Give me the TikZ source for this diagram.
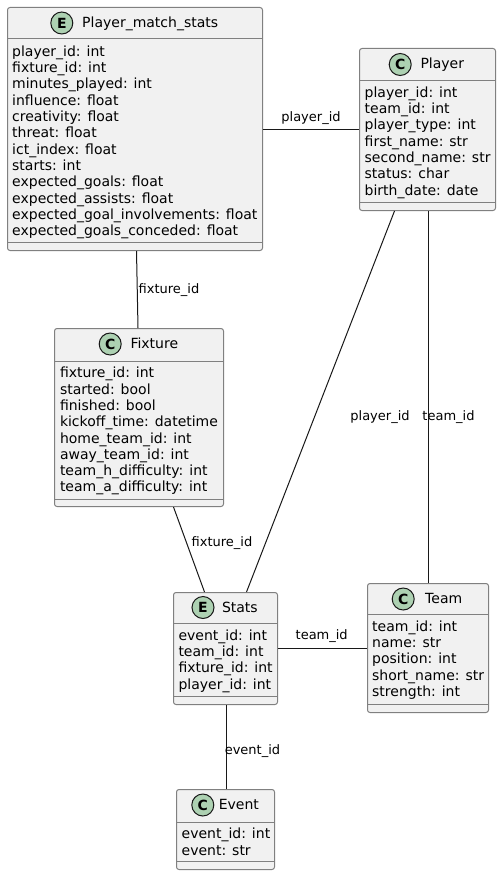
\documentclass[tikz,border=0pt]{standalone}
\usepackage{fontspec}
\setmainfont{DejaVu Sans}
\definecolor{boxfill}{HTML}{F1F1F1}
\definecolor{boxline}{HTML}{808080}
\definecolor{circfill}{HTML}{ADD1B2}
\definecolor{ink}{HTML}{181818}
\tikzset{
  box/.style={draw=boxline, fill=boxfill, rounded corners=2.5pt, inner sep=0pt, anchor=north west, line width=1pt},
  sepline/.style={draw=boxline, line width=1pt},
  stereo/.style={circle, draw=ink, fill=circfill, minimum size=22pt, inner sep=0pt, line width=1pt, font=\fontsize{14}{14}\selectfont\bfseries},
  title/.style={anchor=base west, inner sep=0pt, font=\fontsize{14}{16.3}\selectfont},
  attrs/.style={anchor=north west, inner sep=0pt, align=left, font=\fontsize{14}{16.3}\selectfont},
  conn/.style={draw=ink, line width=1pt},
  lbl/.style={inner sep=0pt, font=\fontsize{13}{15}\selectfont}
}
\begin{document}
\begin{tikzpicture}[x=1pt,y=-1pt]
\useasboundingbox (0,0) rectangle (501,875);

% Player_match_stats
\node[box, minimum width=255pt, minimum height=243pt] (pms) at (7,7) {};
\draw[sepline] (7,39) -- (262,39);
\draw[sepline] (7,242) -- (262,242);
\node[stereo] (pmsE) at (61.8,23) {E};
\node[title] (pmsT) at (82,27.5) {Player\_match\_stats};
\node[attrs] (pmsA) at (12,45.5) {player\_id: int\\fixture\_id: int\\minutes\_played: int\\influence: float\\creativity: float\\threat: float\\ict\_index: float\\starts: int\\expected\_goals: float\\expected\_assists: float\\expected\_goal\_involvements: float\\expected\_goals\_conceded: float};

% Player
\node[box, minimum width=136pt, minimum height=162pt] (player) at (359,48) {};
\draw[sepline] (359,80) -- (495,80);
\draw[sepline] (359,202) -- (495,202);
\node[stereo] (playerC) at (400.2,64.5) {C};
\node[title] (playerT) at (420.3,69) {Player};
\node[attrs] (playerA) at (364.5,86.5) {player\_id: int\\team\_id: int\\player\_type: int\\first\_name: str\\second\_name: str\\status: char\\birth\_date: date};

% Fixture
\node[box, minimum width=169pt, minimum height=178pt] (fix) at (54,328) {};
\draw[sepline] (54,361) -- (223,361);
\draw[sepline] (54,499) -- (223,499);
\node[stereo] (fixC) at (110.2,344) {C};
\node[title] (fixT) at (130.3,348.5) {Fixture};
\node[attrs] (fixA) at (59.8,367) {fixture\_id: int\\started: bool\\finished: bool\\kickoff\_time: datetime\\home\_team\_id: int\\away\_team\_id: int\\team\_h\_difficulty: int\\team\_a\_difficulty: int};

% Stats
\node[box, minimum width=104pt, minimum height=112pt] (stats) at (173,592) {};
\draw[sepline] (173,623) -- (277,623);
\draw[sepline] (173,696) -- (277,696);
\node[stereo] (statsE) at (203,607.5) {E};
\node[title] (statsT) at (221.8,612) {Stats};
\node[attrs] (statsA) at (178.3,629.5) {event\_id: int\\team\_id: int\\fixture\_id: int\\player\_id: int};

% Team
\node[box, minimum width=121pt, minimum height=129pt] (team) at (367,583) {};
\draw[sepline] (367,614) -- (488,614);
\draw[sepline] (367,704) -- (488,704);
\node[stereo] (teamC) at (403.2,599) {C};
\node[title] (teamT) at (425,603.5) {Team};
\node[attrs] (teamA) at (372,620.5) {team\_id: int\\name: str\\position: int\\short\_name: str\\strength: int};

% Event
\node[box, minimum width=98pt, minimum height=80pt] (event) at (176,789) {};
\draw[sepline] (176,822) -- (274,822);
\draw[sepline] (176,861) -- (274,861);
\node[stereo] (eventC) at (202.8,805) {C};
\node[title] (eventT) at (218.6,809.5) {Event};
\node[attrs] (eventA) at (181.5,828) {event\_id: int\\event: str};

% connectors
\draw[conn] (pms.east |- player.west) -- (player.west);
\draw[conn] ([xshift=1.5pt]pms.south) -- ([xshift=-1pt]fix.north);
\draw[conn] ([xshift=34.5pt]fix.south) -- ([xshift=-21pt]stats.north);
\draw[conn] ([xshift=-33pt]player.south) -- ([xshift=21pt]stats.north);
\draw[conn] (team.north |- player.south) -- (team.north);
\draw[conn] (stats.east) -- (stats.east -| team.west);
\draw[conn] ([xshift=1pt]stats.south) -- ([xshift=1pt]event.north);

% labels
\node[lbl] (l1) at (311,118) {player\_id};
\node[lbl] (l2) at (169,290) {fixture\_id};
\node[lbl] (l3) at (222,543) {fixture\_id};
\node[lbl] (l4) at (380,417) {player\_id};
\node[lbl] (l5) at (448.5,417) {team\_id};
\node[lbl] (l6) at (321.7,636.5) {team\_id};
\node[lbl] (l7) at (252.5,751) {event\_id};
\end{tikzpicture}
\end{document}
